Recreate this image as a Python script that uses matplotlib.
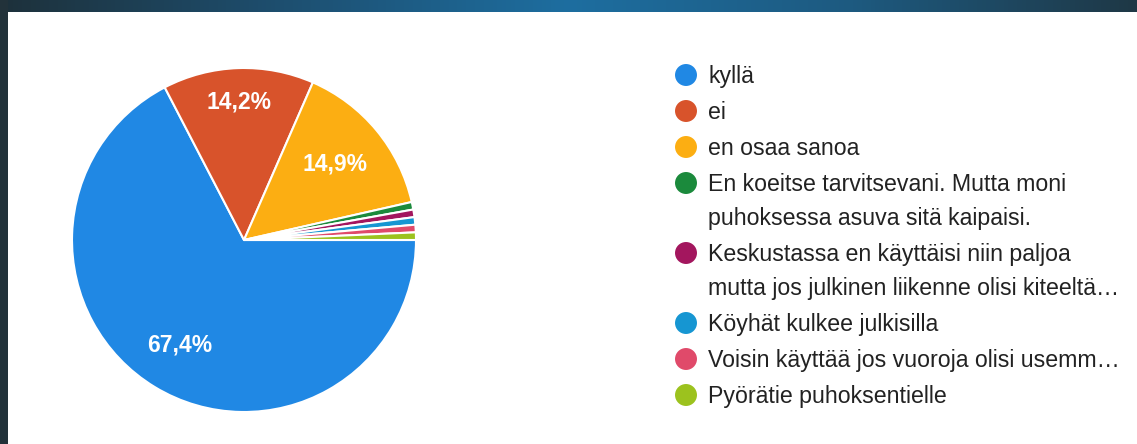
import matplotlib.pyplot as plt
import numpy as np
from matplotlib.colors import LinearSegmentedColormap

plt.rcParams['font.family'] = ['Liberation Sans', 'DejaVu Sans']

# answers (count of responses)
labels = ["kyllä", "ei", "en osaa sanoa",
          "En koeitse tarvitsevani. Mutta moni\npuhoksessa asuva sitä kaipaisi.",
          "Keskustassa en käyttäisi niin paljoa\nmutta jos julkinen liikenne olisi kiteeltä…",
          "Köyhät kulkee julkisilla",
          "Voisin käyttää jos vuoroja olisi usemm…",
          "Pyörätie puhoksentielle"]
counts = [95, 20, 21, 1, 1, 1, 1, 1]
colors = ["#2088e4", "#d8532b", "#fcae12", "#1b8a3c",
          "#a3165e", "#1696d2", "#e04a6a", "#9cc21e"]
label_r = [0.715, 0.80, 0.69]

W, H = 1137, 444
fig = plt.figure(figsize=(W / 100, H / 100), dpi=100)
fig.patch.set_facecolor("white")

# dark frame of the photo (top strip and left strip)
top = fig.add_axes([0, 1 - 12 / H, 1, 12 / H])
cm = LinearSegmentedColormap.from_list("frame", ["#1e313b", "#1d4f70", "#1d6ea0", "#1d5a80", "#1f3846"])
top.imshow(np.linspace(0, 1, 256)[None, :], aspect="auto", cmap=cm)
top.axis("off")
left = fig.add_axes([0, 0, 8 / W, 1])
left.set_facecolor("#22323a")
left.set_xticks([])
left.set_yticks([])
for s in left.spines.values():
    s.set_visible(False)

# pie
cx, cy, r = 244, 240, 172
ax = fig.add_axes([(cx - r) / W, (H - cy - r) / H, 2 * r / W, 2 * r / H])
wedges, _ = ax.pie(counts, colors=colors, startangle=0, counterclock=False,
                   wedgeprops=dict(edgecolor="white", linewidth=1.5))
ax.set_xlim(-1, 1)
ax.set_ylim(-1, 1)
ax.set_aspect("equal")
ax.axis("off")

total = sum(counts)
for w, c, d in zip(wedges, counts, label_r):
    mid = np.deg2rad((w.theta1 + w.theta2) / 2)
    txt = f"{c / total * 100:.1f}%".replace(".", ",")
    ax.text(d * np.cos(mid), d * np.sin(mid), txt, color="white",
            fontsize=16.5, fontweight="bold", ha="center", va="center")

# legend drawn in pixel coordinates
lg = fig.add_axes([0, 0, 1, 1])
lg.set_xlim(0, W)
lg.set_ylim(H, 0)
lg.axis("off")
y = 75
for lab, col in zip(labels, colors):
    lg.scatter([686], [y], s=250, color=col, edgecolors="none")
    lines = lab.split("\n")
    for i, ln in enumerate(lines):
        lg.text(708, y + i * 34 + 1, ln, fontsize=16.7, color="#222222", va="center", ha="left")
    y += 34 * (len(lines) - 1) + 36

fig.savefig("out.png", dpi=100)
